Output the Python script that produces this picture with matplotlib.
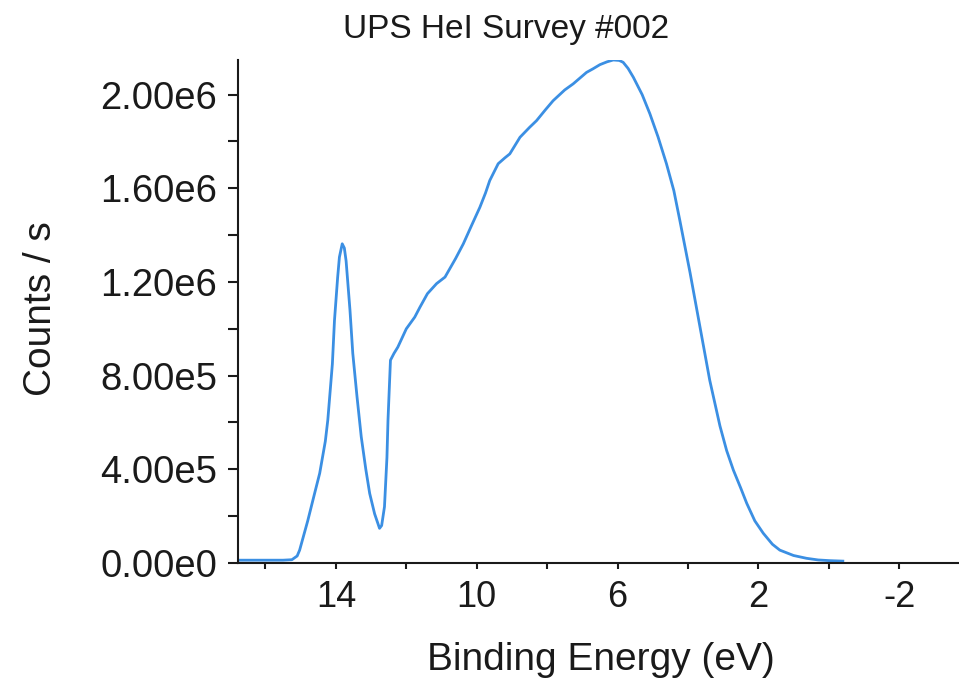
import matplotlib
matplotlib.use("Agg")
import matplotlib.pyplot as plt
from matplotlib.ticker import FixedLocator, FuncFormatter

plt.rcParams["font.family"] = ["Liberation Sans", "DejaVu Sans"]

# UPS He I survey spectrum (binding energy in eV, counts per second in millions)
binding_energy = [16.78, 16.0, 15.5, 15.25, 15.1, 15.03, 14.8, 14.6, 14.46, 14.3,
                  14.23, 14.1, 14.04, 13.95, 13.9, 13.82, 13.76, 13.71, 13.6, 13.52,
                  13.4, 13.28, 13.15, 13.04, 12.9, 12.76, 12.7, 12.62, 12.55, 12.52,
                  12.45, 12.35, 12.24, 12.0, 11.76, 11.61, 11.4, 11.14, 10.9, 10.6,
                  10.38, 10.15, 9.91, 9.75, 9.63, 9.39, 9.2, 9.06, 8.77, 8.5,
                  8.30, 8.05, 7.83, 7.5, 7.26, 6.88, 6.7, 6.5, 6.3, 6.12,
                  5.95, 5.84, 5.7, 5.55, 5.3, 5.08, 4.85, 4.61, 4.4, 4.23,
                  3.94, 3.66, 3.38, 3.09, 2.9, 2.71, 2.5, 2.33, 2.1, 1.86,
                  1.6, 1.39, 1.0, 0.63, 0.3, -0.03, -0.4]
counts_millions = [0.012, 0.012, 0.012, 0.014, 0.03, 0.055, 0.18, 0.30, 0.383, 0.52,
                   0.61, 0.85, 1.036, 1.22, 1.306, 1.363, 1.345, 1.29, 1.08, 0.895,
                   0.71, 0.539, 0.40, 0.297, 0.21, 0.148, 0.16, 0.24, 0.45, 0.61,
                   0.866, 0.895, 0.922, 1.0, 1.05, 1.093, 1.15, 1.193, 1.221, 1.30,
                   1.363, 1.44, 1.519, 1.58, 1.633, 1.705, 1.73, 1.747, 1.818, 1.86,
                   1.889, 1.935, 1.974, 2.02, 2.046, 2.095, 2.11, 2.128, 2.14, 2.148,
                   2.146, 2.138, 2.112, 2.074, 2.0, 1.918, 1.82, 1.705, 1.59, 1.463,
                   1.24, 1.01, 0.78, 0.585, 0.48, 0.397, 0.32, 0.255, 0.18, 0.127,
                   0.08, 0.055, 0.032, 0.02, 0.013, 0.01, 0.008]

x_major_ticks = [14, 10, 6, 2, -2]
x_minor_ticks = [16, 12, 8, 4, 0]
y_major_ticks = [0.0, 4.0e5, 8.0e5, 1.2e6, 1.6e6, 2.0e6]
y_minor_ticks = [2.0e5, 6.0e5, 1.0e6, 1.4e6, 1.8e6]

title_text = "UPS HeI Survey #002"
x_label = "Binding Energy (eV)"
y_label = "Counts / s"

counts = [c * 1e6 for c in counts_millions]

fig = plt.figure(figsize=(9.59, 6.87), dpi=100, facecolor="white")
ax = fig.add_axes([0.2482, 0.1805, 0.7518, 0.7322])

ax.plot(binding_energy, counts, color="#3b8fe3", linewidth=2.0,
        solid_joinstyle="round")

ax.set_xlim(16.78, -3.7)
ax.set_ylim(0, max(counts))

for side in ("top", "right"):
    ax.spines[side].set_visible(False)
for side in ("left", "bottom"):
    ax.spines[side].set_linewidth(1.5)
    ax.spines[side].set_color("#1a1a1a")


def sci_label(v, pos):
    if v == 0:
        return "0.00e0"
    exp = 0
    m = abs(v)
    while m >= 10:
        m /= 10
        exp += 1
    return f"{m:.2f}e{exp}"


ax.xaxis.set_major_locator(FixedLocator(x_major_ticks))
ax.xaxis.set_minor_locator(FixedLocator(x_minor_ticks))
ax.yaxis.set_major_locator(FixedLocator(y_major_ticks))
ax.yaxis.set_minor_locator(FixedLocator(y_minor_ticks))
ax.yaxis.set_major_formatter(FuncFormatter(sci_label))
ax.xaxis.set_major_formatter(FuncFormatter(lambda v, p: f"{v:g}"))

ax.tick_params(axis="x", which="both", direction="out", length=4, width=1.5,
               color="#1a1a1a")
ax.tick_params(axis="x", which="major", labelsize=26, pad=8, labelcolor="#1a1a1a")
ax.tick_params(axis="y", which="both", direction="out", length=7, width=1.5,
               color="#1a1a1a")
ax.tick_params(axis="y", which="major", labelsize=27.5, pad=8, labelcolor="#1a1a1a")

fig.text(0.528, 0.957, title_text, ha="center", va="center", fontsize=24,
         color="#1a1a1a")
fig.text(0.627, 0.039, x_label, ha="center", va="center", fontsize=28,
         color="#1a1a1a")
fig.text(0.043, 0.551, y_label, ha="center", va="center", fontsize=28,
         rotation=90, color="#1a1a1a")

fig.savefig("out.png", dpi=100, facecolor="white")
